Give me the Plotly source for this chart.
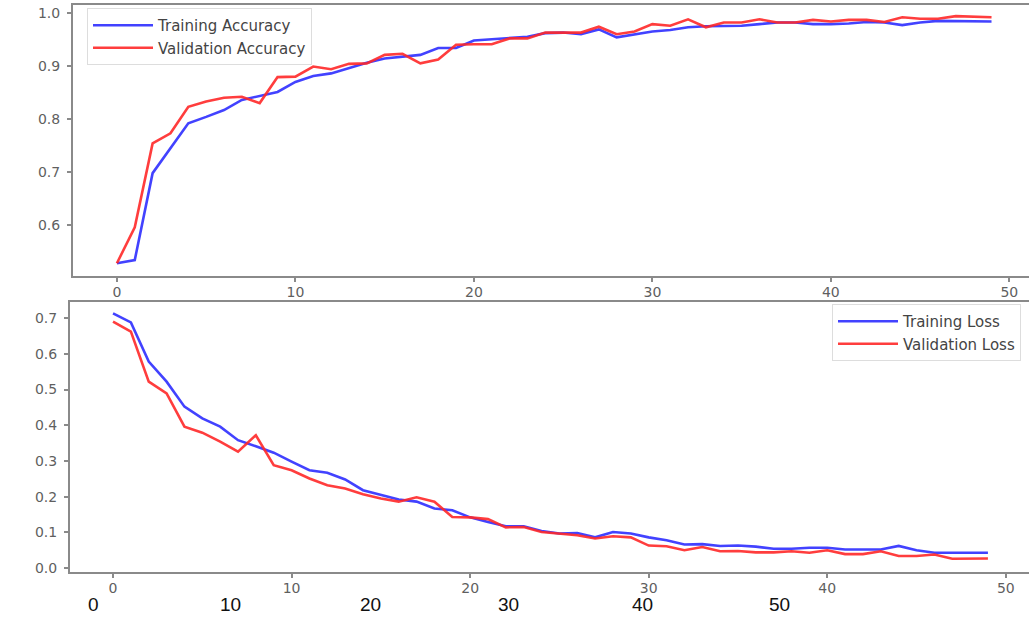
import plotly.graph_objects as go

W, H = 1029, 617

epochs = list(range(50))

train_acc = [0.528, 0.534, 0.698, 0.745, 0.792, 0.804, 0.817, 0.836, 0.843, 0.851,
             0.870, 0.881, 0.886, 0.896, 0.906, 0.914, 0.917, 0.921, 0.934, 0.934,
             0.948, 0.950, 0.952, 0.955, 0.962, 0.963, 0.960, 0.969, 0.954, 0.960,
             0.965, 0.968, 0.973, 0.975, 0.976, 0.976, 0.979, 0.982, 0.982, 0.979,
             0.979, 0.980, 0.983, 0.982, 0.977, 0.982, 0.985, 0.985, 0.984, 0.984]
val_acc = [0.528, 0.596, 0.754, 0.773, 0.823, 0.833, 0.840, 0.842, 0.830, 0.879,
           0.880, 0.899, 0.894, 0.904, 0.905, 0.921, 0.923, 0.905, 0.912, 0.940,
           0.941, 0.941, 0.952, 0.952, 0.963, 0.963, 0.963, 0.974, 0.960, 0.965,
           0.979, 0.976, 0.988, 0.973, 0.982, 0.982, 0.988, 0.982, 0.982, 0.987,
           0.984, 0.987, 0.987, 0.983, 0.992, 0.989, 0.989, 0.994, 0.993, 0.992]

train_loss = [0.713, 0.688, 0.578, 0.522, 0.452, 0.419, 0.396, 0.358, 0.341, 0.323,
              0.298, 0.274, 0.267, 0.248, 0.218, 0.204, 0.192, 0.186, 0.167, 0.162,
              0.142, 0.129, 0.117, 0.117, 0.104, 0.097, 0.098, 0.086, 0.101, 0.097,
              0.086, 0.078, 0.066, 0.067, 0.062, 0.063, 0.060, 0.054, 0.054, 0.057,
              0.057, 0.052, 0.052, 0.052, 0.062, 0.050, 0.043, 0.043, 0.043, 0.043]
val_loss = [0.690, 0.662, 0.522, 0.489, 0.396, 0.379, 0.354, 0.326, 0.372, 0.288,
            0.274, 0.251, 0.232, 0.223, 0.207, 0.195, 0.186, 0.198, 0.186, 0.143,
            0.142, 0.137, 0.114, 0.115, 0.101, 0.097, 0.092, 0.083, 0.089, 0.086,
            0.063, 0.061, 0.050, 0.059, 0.047, 0.048, 0.044, 0.044, 0.047, 0.043,
            0.050, 0.039, 0.039, 0.047, 0.034, 0.034, 0.038, 0.026, 0.027, 0.027]

acc_yticks = [0.6, 0.7, 0.8, 0.9, 1.0]
loss_yticks = [0.0, 0.1, 0.2, 0.3, 0.4, 0.5, 0.6, 0.7]
xticks = [0, 10, 20, 30, 40, 50]
extra_labels = ["0", "10", "20", "30", "40", "50"]

BLUE = "rgba(45,45,255,0.9)"
RED = "rgba(255,40,40,0.9)"
AXIS = "#8a8a8a"
TICKFONT = dict(family="DejaVu Sans", size=14, color="#5f5f5f")
LEGFONT = dict(family="DejaVu Sans", size=15, color="#444444")

fig = go.Figure()
fig.add_trace(go.Scatter(x=epochs, y=train_acc, mode="lines", name="Training Accuracy",
                         line=dict(color=BLUE, width=2.6), xaxis="x", yaxis="y", legend="legend"))
fig.add_trace(go.Scatter(x=epochs, y=val_acc, mode="lines", name="Validation Accuracy",
                         line=dict(color=RED, width=2.6), xaxis="x", yaxis="y", legend="legend"))
fig.add_trace(go.Scatter(x=epochs, y=train_loss, mode="lines", name="Training Loss",
                         line=dict(color=BLUE, width=2.6), xaxis="x2", yaxis="y2", legend="legend2"))
fig.add_trace(go.Scatter(x=epochs, y=val_loss, mode="lines", name="Validation Loss",
                         line=dict(color=RED, width=2.6), xaxis="x2", yaxis="y2", legend="legend2"))

def px_x(p):
    return p / W

def px_y(p):
    return (H - p) / H

axis_common = dict(showgrid=False, zeroline=False, showline=True, linecolor=AXIS, linewidth=2,
                   ticks="outside", ticklen=4, tickcolor=AXIS, tickwidth=1.5, tickfont=TICKFONT,
                   automargin=False)

fig.update_layout(
    width=W, height=H,
    margin=dict(l=0, r=0, t=0, b=0),
    paper_bgcolor="white", plot_bgcolor="white",
    xaxis=dict(domain=[px_x(73), 1.0], range=[-2.46, 51.1], tickvals=xticks, mirror=True,
               anchor="y", ticklabelstandoff=-2, **axis_common),
    yaxis=dict(domain=[px_y(276), px_y(5)], range=[0.504, 1.015], tickvals=acc_yticks,
               tickformat=".1f", anchor="x", ticklabelstandoff=4, **axis_common),
    xaxis2=dict(domain=[px_x(70), 1.0], range=[-2.41, 51.3], tickvals=xticks, mirror=True,
                anchor="y2", ticklabelstandoff=-2, **axis_common),
    yaxis2=dict(domain=[px_y(572), px_y(302)], range=[-0.011, 0.745], tickvals=loss_yticks,
                tickformat=".1f", anchor="x2", ticklabelstandoff=4, **axis_common),
    legend=dict(x=px_x(87), y=px_y(8), xanchor="left", yanchor="top",
                bgcolor="white", bordercolor="#dddddd", borderwidth=1,
                font=LEGFONT, itemwidth=60, tracegroupgap=0),
    legend2=dict(x=px_x(1021), y=px_y(304), xanchor="right", yanchor="top",
                 bgcolor="white", bordercolor="#dddddd", borderwidth=1,
                 font=LEGFONT, itemwidth=60, tracegroupgap=0),
    showlegend=True,
)

extra_px = [93, 230, 370, 508, 642, 779]
for lab, xp in zip(extra_labels, extra_px):
    fig.add_annotation(x=px_x(xp), y=px_y(604), xref="paper", yref="paper", text=lab,
                       showarrow=False, xanchor="center", yanchor="middle",
                       font=dict(family="Liberation Sans", size=19, color="#111111"))

fig.write_html("out.html", config={"displayModeBar": False},
               post_script="document.body.style.margin='0';document.body.style.padding='0';")
